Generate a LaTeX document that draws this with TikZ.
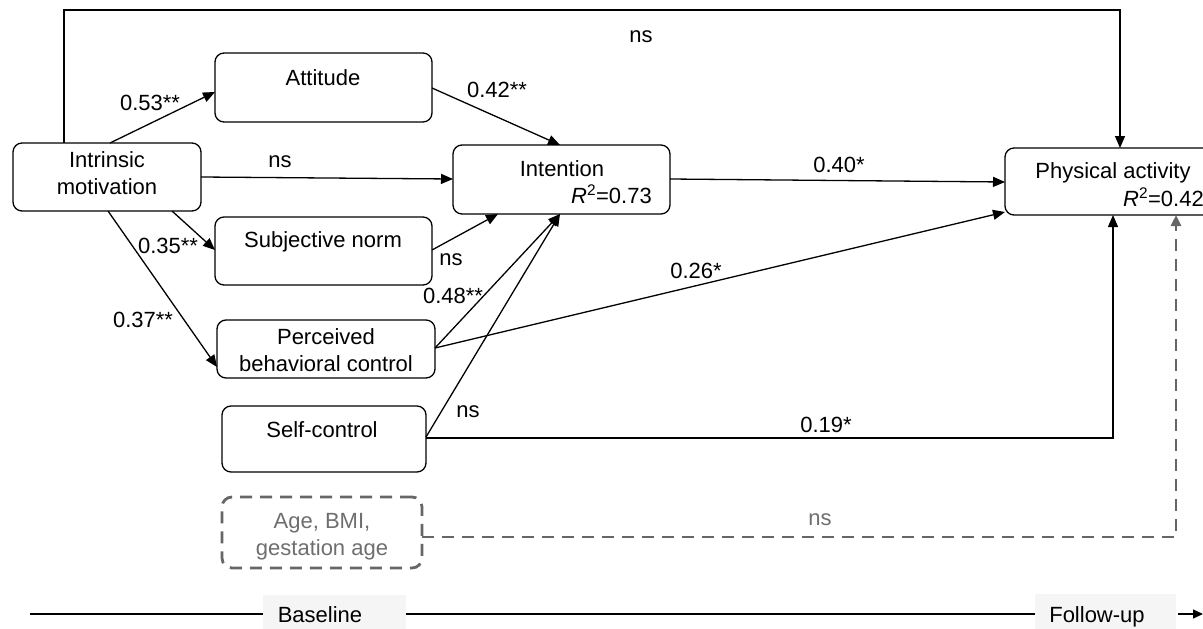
\documentclass[tikz,border=0pt]{standalone}
\usepackage{fontspec}
\setmainfont{Liberation Sans}
\usetikzlibrary{arrows.meta}
\definecolor{dgray}{HTML}{666666}
\definecolor{tgray}{HTML}{6E6E6E}
\definecolor{bggray}{HTML}{F5F5F5}
\begin{document}
\begin{tikzpicture}[x=1pt,y=-1pt,
  box/.style={draw, rounded corners=9pt, line width=1.3pt, inner sep=0pt, outer sep=0pt},
  covbox/.style={draw=dgray, dash pattern=on 12pt off 8pt, rounded corners=10pt, line width=2.8pt, inner sep=0pt, outer sep=0pt},
  txt/.style={anchor=base, inner sep=0pt, font=\fontsize{22}{27}\selectfont},
  lbl/.style={anchor=base, inner sep=0pt, font=\fontsize{22}{27}\selectfont},
  arr/.style={line width=1.3pt, -{Triangle[length=12pt,width=10pt]}},
  darr/.style={line width=2.8pt, draw=dgray, dash pattern=on 12pt off 8pt, -{Triangle[length=11pt,width=10pt]}},
  bgbox/.style={fill=bggray, draw=none, inner sep=0pt}
]
\useasboundingbox (0,0) rectangle (1203,629);

% boxes
\node[box, minimum width=188, minimum height=68] (im) at (107,177) {};
\node[box, minimum width=217, minimum height=69] (att) at (323.5,87.5) {};
\node[box, minimum width=217, minimum height=69] (int) at (561.5,179.5) {};
\node[box, minimum width=217, minimum height=68] (sn) at (323.5,251) {};
\node[box, minimum width=218, minimum height=58] (pbc) at (326,349) {};
\node[box, minimum width=204, minimum height=66] (sc) at (324,439) {};
\node[covbox, minimum width=200, minimum height=71] (cov) at (322,532.5) {};
\node[box, minimum width=216, minimum height=67] (pa) at (1113,181.5) {};

% box texts
\node[txt] (imt1) at (107,167) {Intrinsic};
\node[txt] (imt2) at (107,194) {motivation};
\node[txt] (attt) at (323,85) {Attitude};
\node[txt] (intt) at (562,176) {Intention};
\node[txt, anchor=base east] (intr) at (652,203) {\textit{R}\textsuperscript{2}=0.73};
\node[txt] (snt) at (323,247) {Subjective norm};
\node[txt] (pbct1) at (326,344) {Perceived};
\node[txt] (pbct2) at (326,371) {behavioral control};
\node[txt] (sct) at (322,437) {Self-control};
\node[txt, text=tgray] (covt1) at (322,528) {Age, BMI,};
\node[txt, text=tgray] (covt2) at (322,555) {gestation age};
\node[txt] (pat) at (1113,178) {Physical activity};
\node[txt, anchor=base east] (par) at (1204,206) {\textit{R}\textsuperscript{2}=0.42};

% connectors
\coordinate (tl) at (64,10);
\coordinate (tr) at (1120,10);
\draw[arr] (im.north -| tl) -- (tl) -- (tr) -- (pa.north -| tr);
\node[lbl] (l1) at (641,42) {ns};

\draw[arr] (im.north -| 110,0) -- (att.west |- 0,92);
\node[lbl] (l2) at (150,110) {0.53**};

\draw[arr] (im.east |- 0,177) -- (int.west |- 0,179);
\node[lbl] (l3) at (280,167) {ns};

\draw[arr] (im.south -| 172,0) -- (sn.west |- 0,250);
\node[lbl] (l4) at (168,253) {0.35**};

\draw[arr] (im.south -| 108,0) -- (pbc.west |- 0,367);
\node[lbl] (l5) at (143,327) {0.37**};

\draw[arr] (att.east |- 0,88) -- (int.north -| 560,0);
\node[lbl] (l6) at (497,97) {0.42**};

\draw[arr] (sn.east |- 0,250) -- (int.south -| 498,0);
\node[lbl] (l7) at (451,265) {ns};

\draw[arr] (pbc.east |- 0,348) -- (int.south -| 560,0);
\node[lbl] (l8) at (453,303) {0.48**};

\draw[arr] (sc.east |- 0,437) -- (int.south -| 560,0);
\node[lbl] (l9) at (468,417) {ns};

\draw[arr] (int.east |- 0,179) -- (pa.west |- 0,182);
\node[lbl] (l10) at (839,172) {0.40*};

\draw[arr] (pbc.east |- 0,348) -- (pa.west |- 0,212);
\node[lbl] (l11) at (696,278) {0.26*};

\draw[arr] (sc.east |- 0,438) -| (pa.south -| 1113,0);
\node[lbl] (l12) at (826,432) {0.19*};

\draw[darr] (cov.east |- 0,537) -| (pa.south -| 1176,0);
\node[lbl, text=tgray] (l13) at (820,525) {ns};

% timeline
\node[bgbox, minimum width=143, minimum height=40, anchor=north west] (blbg) at (263,595) {};
\node[bgbox, minimum width=141, minimum height=40, anchor=north west] (fubg) at (1035,594) {};
\node[txt] (blt) at (320,622) {Baseline};
\node[txt] (fut) at (1097,622) {Follow-up};
\coordinate (ts) at (30,614);
\coordinate (te) at (1203,614);
\draw[line width=1.3pt] (ts) -- (blbg.west |- ts);
\draw[line width=1.3pt] (blbg.east |- ts) -- (fubg.west |- ts);
\draw[line width=1.3pt, -{Triangle[length=10pt,width=9pt]}] (fubg.east |- ts) ++(2,0) -- (te);
\end{tikzpicture}
\end{document}
